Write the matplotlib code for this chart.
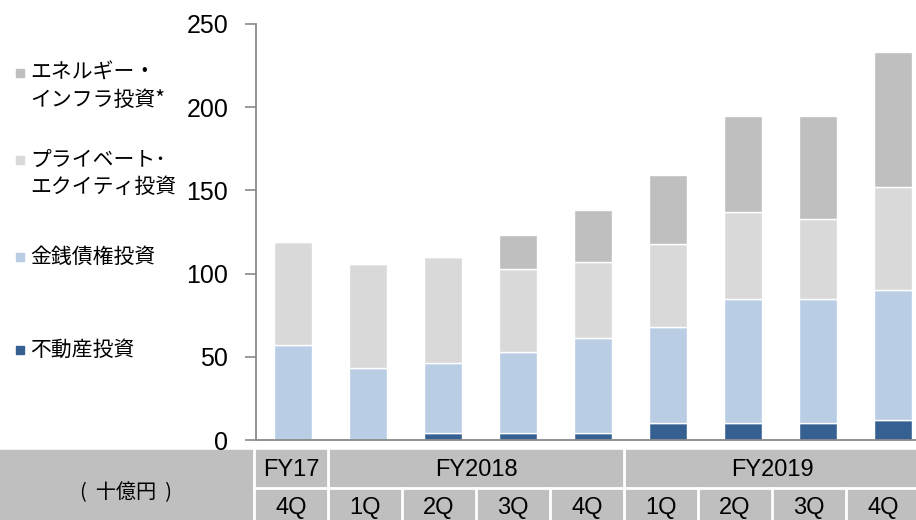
import matplotlib.pyplot as plt
from matplotlib.patches import Rectangle

plt.rcParams['font.family'] = ['Liberation Sans', 'Noto Sans CJK JP', 'DejaVu Sans']

quarters = ['4Q', '1Q', '2Q', '3Q', '4Q', '1Q', '2Q', '3Q', '4Q']
years = ['FY17', 'FY2018', 'FY2019']
year_spans = [1, 4, 4]

# 十億円
real_estate = [0, 0, 4, 4, 4, 10, 10, 10, 12]
money_claims = [57, 43, 42, 49, 57, 58, 75, 75, 78]
private_equity = [62, 63, 64, 50, 46, 50, 52, 48, 62]
energy_infra = [0, 0, 0, 20, 31, 41, 58, 62, 81]

series = [
    ('不動産投資', real_estate, '#376092'),
    ('金銭債権投資', money_claims, '#b9cde5'),
    ('プライベート･\nエクイティ投資', private_equity, '#d9d9d9'),
    ('エネルギー・\nインフラ投資*', energy_infra, '#bfbfbf'),
]

W, H = 916, 520
fig = plt.figure(figsize=(W / 100, H / 100), dpi=100)

# bar chart
ax = fig.add_axes([256 / W, 80 / H, (W - 256) / W, 416 / H])
x = list(range(len(quarters)))
bottom = [0] * len(quarters)
for name, vals, col in series:
    ax.bar(x, vals, width=0.5, bottom=bottom, color=col, edgecolor='white', linewidth=1)
    bottom = [b + v for b, v in zip(bottom, vals)]

ax.set_ylim(0, 250)
ax.set_xlim(-0.493, 8.307)
ax.set_yticks([0, 50, 100, 150, 200, 250])
ax.tick_params(axis='y', labelsize=18, length=8, width=1.2, color='#898989', pad=12)
ax.tick_params(axis='x', bottom=False, labelbottom=False)
for s in ['top', 'right']:
    ax.spines[s].set_visible(False)
for s in ['left', 'bottom']:
    ax.spines[s].set_color('#898989')
    ax.spines[s].set_linewidth(1.3)

# overlay in pixel coords for legend and table
ov = fig.add_axes([0, 0, 1, 1], zorder=-1)
ov.set_xlim(0, W)
ov.set_ylim(H, 0)
ov.axis('off')

legend_y = [350, 257, 160, 73]
for (name, vals, col), ly in zip(series, legend_y):
    ov.add_patch(Rectangle((16, ly - 4), 8, 8, color=col))
    ov.text(30, ly - 11, name, fontsize=15, family=['Noto Sans CJK JP', 'DejaVu Sans'],
            va='top', ha='left', linespacing=1.3)

# table under the chart
ov.add_patch(Rectangle((0, 450), W, 75, color='#bfbfbf'))
col0, cw = 254, 74
ov.plot([col0, col0], [450, 520], color='white', lw=2)
ov.plot([col0, W], [488, 488], color='white', lw=2)
for i, q in enumerate(quarters):
    cx = col0 + cw * (i + 0.5)
    ov.text(cx, 508, q, fontsize=17, ha='center', va='center')
    ov.plot([col0 + cw * (i + 1)] * 2, [488, 520], color='white', lw=2)
start = 0
for yr, n in zip(years, year_spans):
    cx = col0 + cw * (start + n / 2)
    ov.text(cx, 470, yr, fontsize=17, ha='center', va='center')
    start += n
    ov.plot([col0 + cw * start] * 2, [450, 488], color='white', lw=2)
ov.text(126, 493, '(  十億円  )', fontsize=14.5, ha='center', va='center',
        family=['Noto Sans CJK JP', 'DejaVu Sans'])

fig.savefig('out.png', dpi=100)
